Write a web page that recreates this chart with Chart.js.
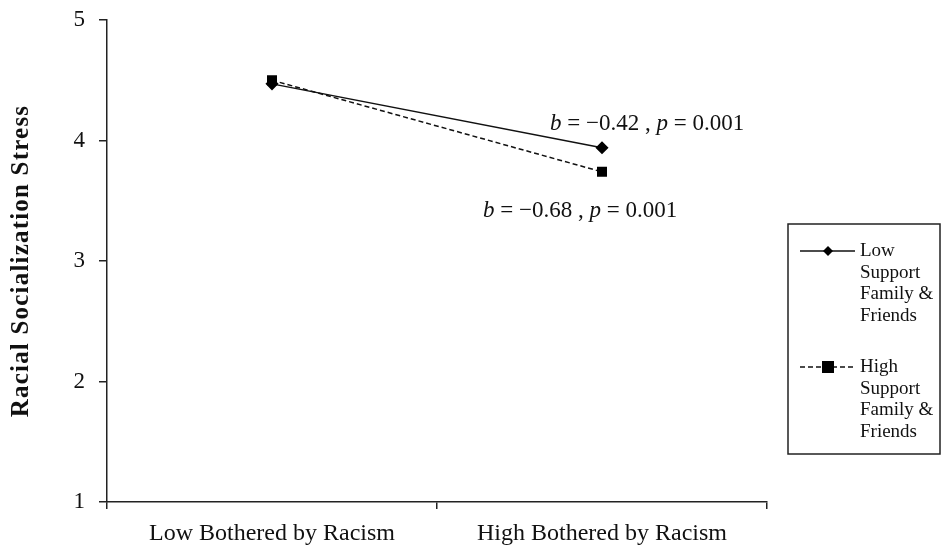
<!DOCTYPE html>
<html>
<head>
<meta charset="utf-8">
<script src="https://cdn.jsdelivr.net/npm/chart.js@4/dist/chart.umd.min.js"></script>
<style>
html,body{margin:0;padding:0;background:#fff;}
#wrap{width:943px;height:549px;position:relative;}
</style>
</head>
<body>
<div id="wrap"><canvas id="c" width="943" height="549"></canvas></div>
<script>
const categories = ["Low Bothered by Racism", "High Bothered by Racism"];
const lowSupport = [4.47, 3.94];
const highSupport = [4.50, 3.74];
const yTicks = [1, 2, 3, 4, 5];
const yTitle = "Racial Socialization Stress";
const seriesNames = [["Low", "Support", "Family &", "Friends"], ["High", "Support", "Family &", "Friends"]];
const annotations = [
  {series: 0, parts: [["b", true], [" = \u22120.42 , ", false], ["p", true], [" = 0.001", false]]},
  {series: 1, parts: [["b", true], [" = \u22120.68 , ", false], ["p", true], [" = 0.001", false]]}
];

const FONT = "'Liberation Serif', 'Times New Roman', serif";

const annotPlugin = {
  id: 'annot',
  afterDatasetsDraw(chart) {
    const ctx = chart.ctx;
    const offs = [{dx: -52, dy: -24}, {dx: -119, dy: 39}];
    annotations.forEach((a, i) => {
      const meta = chart.getDatasetMeta(a.series);
      const pt = meta.data[1];
      let x = pt.x + offs[i].dx, y = pt.y + offs[i].dy;
      ctx.save();
      ctx.fillStyle = '#111';
      ctx.textBaseline = 'middle';
      ctx.textAlign = 'left';
      a.parts.forEach(([t, it]) => {
        ctx.font = (it ? 'italic ' : '') + '23px ' + FONT;
        ctx.fillText(t, x, y);
        x += ctx.measureText(t).width;
      });
      ctx.restore();
    });
  }
};

const yTitlePlugin = {
  id: 'yTitle',
  afterDraw(chart) {
    const ctx = chart.ctx, area = chart.chartArea;
    ctx.save();
    ctx.translate(22, (area.top + area.bottom) / 2);
    ctx.rotate(-Math.PI / 2);
    ctx.font = 'bold 25px ' + FONT;
    if ('letterSpacing' in ctx) ctx.letterSpacing = '1.2px';
    ctx.fillStyle = '#111';
    ctx.textAlign = 'center';
    ctx.textBaseline = 'middle';
    ctx.fillText(yTitle, 0, 0);
    ctx.restore();
  }
};

const legendPlugin = {
  id: 'boxLegend',
  afterDraw(chart) {
    const ctx = chart.ctx;
    ctx.save();
    ctx.strokeStyle = '#222';
    ctx.lineWidth = 1.5;
    ctx.strokeRect(788, 224, 152, 230);
    const tops = [251, 367];
    chart.data.datasets.forEach((ds, i) => {
      const y = tops[i];
      ctx.beginPath();
      ctx.setLineDash(ds.borderDash || []);
      ctx.lineWidth = 1.5;
      ctx.strokeStyle = '#111';
      ctx.moveTo(800, y); ctx.lineTo(855, y);
      ctx.stroke();
      ctx.setLineDash([]);
      ctx.fillStyle = '#000';
      if (ds.pointStyle === 'rectRot') {
        ctx.beginPath();
        ctx.moveTo(828, y - 5); ctx.lineTo(833, y); ctx.lineTo(828, y + 5); ctx.lineTo(823, y); ctx.closePath(); ctx.fill();
      } else {
        ctx.fillRect(822, y - 6, 12, 12);
      }
      ctx.font = '19px ' + FONT;
      ctx.textBaseline = 'middle';
      ctx.fillStyle = '#111';
      seriesNames[i].forEach((line, k) => ctx.fillText(line, 860, y + k * 21.7));
    });
    ctx.restore();
  }
};

new Chart(document.getElementById('c'), {
  type: 'line',
  data: {
    labels: categories,
    datasets: [
      {label: seriesNames[0].join(' '), data: lowSupport, borderColor: '#111', backgroundColor: '#000', borderWidth: 1.5,
       pointStyle: 'rectRot', pointRadius: 5.5, pointBackgroundColor: '#000', pointBorderColor: '#000', tension: 0},
      {label: seriesNames[1].join(' '), data: highSupport, borderColor: '#111', backgroundColor: '#000', borderWidth: 1.5,
       borderDash: [5, 3], pointStyle: 'rect', pointRadius: 6, pointBackgroundColor: '#000', pointBorderColor: '#000', tension: 0}
    ]
  },
  options: {
    responsive: false,
    animation: false,
    layout: {padding: {left: 0, right: 176, top: 20, bottom: 0}},
    plugins: {legend: {display: false}, tooltip: {enabled: false}},
    scales: {
      x: {
        offset: true,
        grid: {offset: true, drawOnChartArea: false, drawTicks: true, tickLength: 7, color: '#222', lineWidth: 1.5},
        border: {color: '#222', width: 1.5},
        ticks: {color: '#111', font: {family: FONT, size: 24}, padding: 10, maxRotation: 0},
        afterFit(s) { s.height = 47; s.paddingLeft = 0; s.paddingRight = 0; }
      },
      y: {
        min: 1, max: 5,
        afterBuildTicks(s) { s.ticks = yTicks.map(v => ({value: v})); },
        grid: {drawOnChartArea: false, drawTicks: true, tickLength: 8, color: '#222', lineWidth: 1.5},
        border: {color: '#222', width: 1.5},
        ticks: {color: '#111', font: {family: FONT, size: 23}, padding: 14},
        title: {display: false},
        afterFit(s) { s.width = 107; s.paddingTop = 0; s.paddingBottom = 0; }
      }
    }
  },
  plugins: [annotPlugin, legendPlugin, yTitlePlugin]
});
</script>
</body>
</html>
